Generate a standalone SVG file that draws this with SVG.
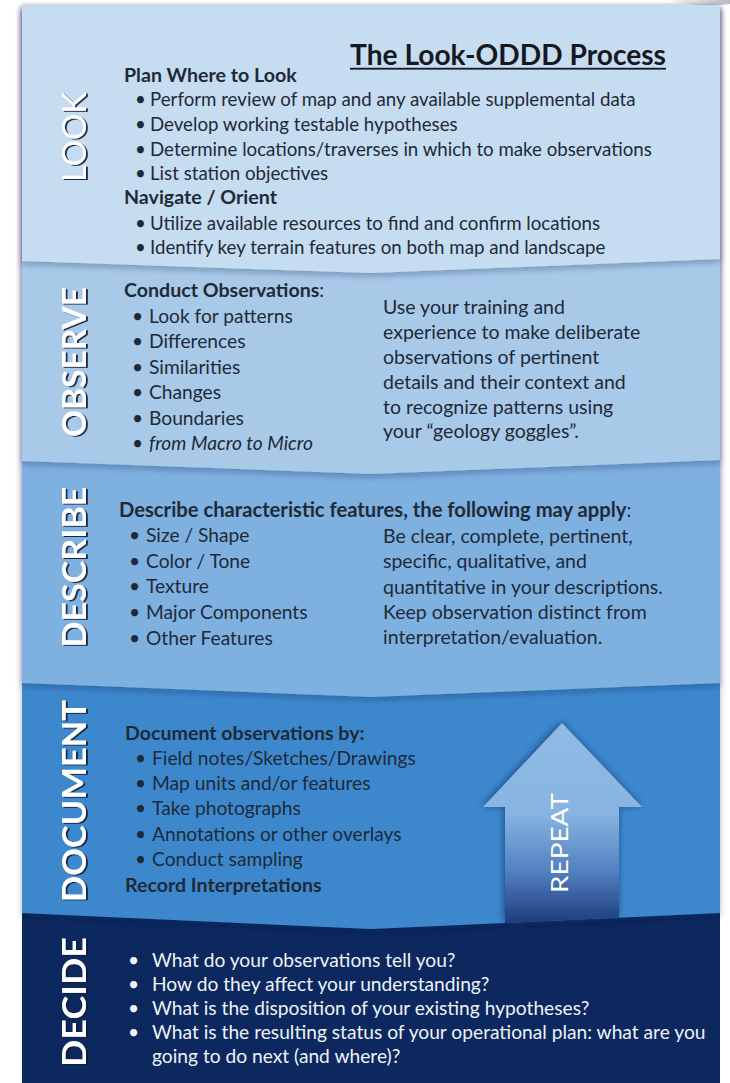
<svg xmlns="http://www.w3.org/2000/svg" width="730" height="1083" viewBox="0 0 730 1083">
<defs>
  <filter id="bandShadow" x="-5%" y="-5%" width="110%" height="115%">
    <feDropShadow dx="0" dy="3" stdDeviation="3" flood-color="#0a1f45" flood-opacity="0.3"/>
  </filter>
  <filter id="lblShadow" x="-20%" y="-20%" width="140%" height="140%">
    <feDropShadow dx="1.8" dy="1" stdDeviation="0.7" flood-color="#0d1f3c" flood-opacity="0.95"/>
  </filter>
  <filter id="arrowShadow" x="-20%" y="-20%" width="140%" height="140%">
    <feDropShadow dx="-1" dy="-1" stdDeviation="3.5" flood-color="#123a75" flood-opacity="0.85"/>
  </filter>
  <linearGradient id="arrowGrad" gradientUnits="userSpaceOnUse" x1="0" y1="723" x2="0" y2="925">
    <stop offset="0" stop-color="#8fbbe5"/>
    <stop offset="0.45" stop-color="#87b4e1"/>
    <stop offset="0.72" stop-color="#5583c3"/>
    <stop offset="1" stop-color="#1b3a7a"/>
  </linearGradient>
  <linearGradient id="curlGrad" x1="0" y1="0" x2="1" y2="0">
    <stop offset="0" stop-color="#ffffff"/>
    <stop offset="1" stop-color="#b8bcc2"/>
  </linearGradient>
  <style>
    .t { font-family: Lato, "Liberation Sans", sans-serif; font-size: 19.2px; fill: #1e2a38; }
    .lk { font-size: 18.7px; }
    .hd { font-weight: 700; font-size: 19.6px; }
    .para { font-size: 19.5px; }
    .it { font-style: italic; }
    .w { fill: #eef3f8; }
    .lbl { font-family: Lato, "Liberation Sans", sans-serif; font-weight: 700; font-size: 32px; fill: #ffffff; text-anchor: middle; }
    .title { font-family: Lato, "Liberation Sans", sans-serif; font-weight: 700; font-size: 28px; fill: #16181f; }
  </style>
</defs>

<rect x="0" y="0" width="730" height="1083" fill="#ffffff"/>
<path d="M662,0 Q700,8 730,4 L730,0 Z" fill="url(#curlGrad)"/>

<!-- bands, bottom first -->
<g id="decide">
  <rect x="22" y="5" width="698" height="1078" fill="#0c285f"/>
  <g filter="url(#lblShadow)"><text class="lbl" transform="translate(74,1002) rotate(-90)" y="11.5" textLength="130" lengthAdjust="spacingAndGlyphs">DECIDE</text></g>
  <text class="t w" y="967"><tspan x="128">•</tspan><tspan x="152">What do your observations tell you?</tspan></text>
  <text class="t w" y="991"><tspan x="128">•</tspan><tspan x="152">How do they affect your understanding?</tspan></text>
  <text class="t w" y="1015"><tspan x="128">•</tspan><tspan x="152">What is the disposition of your existing hypotheses?</tspan></text>
  <text class="t w" y="1039"><tspan x="128">•</tspan><tspan x="152">What is the resulting status of your operational plan: what are you</tspan></text>
  <text class="t w" x="152" y="1063">going to do next (and where)?</text>
</g>

<g id="document">
  <path d="M22,5 H720 V913 L371,929 L22,913 Z" fill="#3e88cd" filter="url(#bandShadow)"/>
  <g filter="url(#lblShadow)"><text class="lbl" transform="translate(74,801) rotate(-90)" y="11.5" textLength="202" lengthAdjust="spacingAndGlyphs">DOCUMENT</text></g>
  <text class="t hd" x="125" y="740" fill="#13233a">Document observations by:</text>
  <text class="t" y="765"><tspan x="135">•</tspan><tspan x="152">Field notes/Sketches/Drawings</tspan></text>
  <text class="t" y="790"><tspan x="135">•</tspan><tspan x="152">Map units and/or features</tspan></text>
  <text class="t" y="815"><tspan x="135">•</tspan><tspan x="152">Take photographs</tspan></text>
  <text class="t" y="841"><tspan x="135">•</tspan><tspan x="152">Annotations or other overlays</tspan></text>
  <text class="t" y="866"><tspan x="135">•</tspan><tspan x="152">Conduct sampling</tspan></text>
  <text class="t hd" x="125" y="892">Record Interpretations</text>
</g>

<g id="describe">
  <path d="M22,5 H720 V683 L371,697 L22,683 Z" fill="#7eb0e0" filter="url(#bandShadow)"/>
  <g filter="url(#lblShadow)"><text class="lbl" transform="translate(74,567) rotate(-90)" y="11.5" textLength="161" lengthAdjust="spacingAndGlyphs">DESCRIBE</text></g>
  <text class="t" y="517" x="119"><tspan class="hd" style="font-size:20.2px">Describe characteristic features, the following may apply</tspan>:</text>
  <text class="t" y="542"><tspan x="129">•</tspan><tspan x="146">Size / Shape</tspan></text>
  <text class="t" y="568"><tspan x="129">•</tspan><tspan x="146">Color / Tone</tspan></text>
  <text class="t" y="593"><tspan x="129">•</tspan><tspan x="146">Texture</tspan></text>
  <text class="t" y="619"><tspan x="129">•</tspan><tspan x="146">Major Components</tspan></text>
  <text class="t" y="645"><tspan x="129">•</tspan><tspan x="146">Other Features</tspan></text>
  <text class="t para" x="383" y="543">Be clear, complete, pertinent,</text>
  <text class="t para" x="383" y="568">specific, qualitative, and</text>
  <text class="t para" x="383" y="594">quantitative in your descriptions.</text>
  <text class="t para" x="383" y="619">Keep observation distinct from</text>
  <text class="t para" x="383" y="644">interpretation/evaluation.</text>
</g>

<g id="observe">
  <path d="M22,5 H720 V460 L371,474 L22,461 Z" fill="#a8c9e8" filter="url(#bandShadow)"/>
  <g filter="url(#lblShadow)"><text class="lbl" transform="translate(74,362) rotate(-90)" y="11.5" textLength="150" lengthAdjust="spacingAndGlyphs">OBSERVE</text></g>
  <text class="t" x="124" y="297"><tspan class="hd">Conduct Observations</tspan>:</text>
  <text class="t" y="323"><tspan x="132">•</tspan><tspan x="149">Look for patterns</tspan></text>
  <text class="t" y="348"><tspan x="132">•</tspan><tspan x="149">Differences</tspan></text>
  <text class="t" y="374"><tspan x="132">•</tspan><tspan x="149">Similarities</tspan></text>
  <text class="t" y="399"><tspan x="132">•</tspan><tspan x="149">Changes</tspan></text>
  <text class="t" y="425"><tspan x="132">•</tspan><tspan x="149">Boundaries</tspan></text>
  <text class="t" y="450"><tspan x="132">•</tspan><tspan x="149" class="it">from Macro to Micro</tspan></text>
  <text class="t para" x="383" y="314">Use your training and</text>
  <text class="t para" x="383" y="339">experience to make deliberate</text>
  <text class="t para" x="383" y="364">observations of pertinent</text>
  <text class="t para" x="383" y="389">details and their context and</text>
  <text class="t para" x="383" y="414">to recognize patterns using</text>
  <text class="t para" x="383" y="438">your “geology goggles”.</text>
</g>

<g id="look">
  <path d="M22,5 H720 V259 L371,273 L22,261 Z" fill="#c6dcf0" filter="url(#bandShadow)"/>
  <g filter="url(#lblShadow)"><text class="lbl" style="font-weight:400" transform="translate(74,137) rotate(-90)" y="11.5" textLength="90" lengthAdjust="spacingAndGlyphs">LOOK</text></g>
  <text class="title" x="350" y="65" textLength="316" lengthAdjust="spacingAndGlyphs">The Look-ODDD Process</text>
  <rect x="350" y="67.8" width="316" height="1.8" fill="#16181f"/>
  <text class="t hd" x="124" y="82">Plan Where to Look</text>
  <text class="t lk" y="106"><tspan x="135">•</tspan><tspan x="150">Perform review of map and any available supplemental data</tspan></text>
  <text class="t lk" y="131"><tspan x="135">•</tspan><tspan x="150">Develop working testable hypotheses</tspan></text>
  <text class="t lk" y="156"><tspan x="135">•</tspan><tspan x="150">Determine locations/traverses in which to make observations</tspan></text>
  <text class="t lk" y="180"><tspan x="135">•</tspan><tspan x="150">List station objectives</tspan></text>
  <text class="t hd" x="124" y="204">Navigate / Orient</text>
  <text class="t lk" y="230"><tspan x="135">•</tspan><tspan x="150">Utilize available resources to find and confirm locations</tspan></text>
  <text class="t lk" y="254"><tspan x="135">•</tspan><tspan x="150">Identify key terrain features on both map and landscape</tspan></text>
</g>

<g id="connectors">
  <path d="M562,723 L642,807 L619,807 L619,917.6 L505,922.9 L505,807 L483,807 Z" fill="url(#arrowGrad)" filter="url(#arrowShadow)"/>
  <text transform="translate(559,843) rotate(-90)" y="8.5" text-anchor="middle" textLength="100" lengthAdjust="spacingAndGlyphs" style="font-family: Lato, 'Liberation Sans', sans-serif; font-size:24px; fill:#ffffff;">REPEAT</text>
</g>
</svg>
